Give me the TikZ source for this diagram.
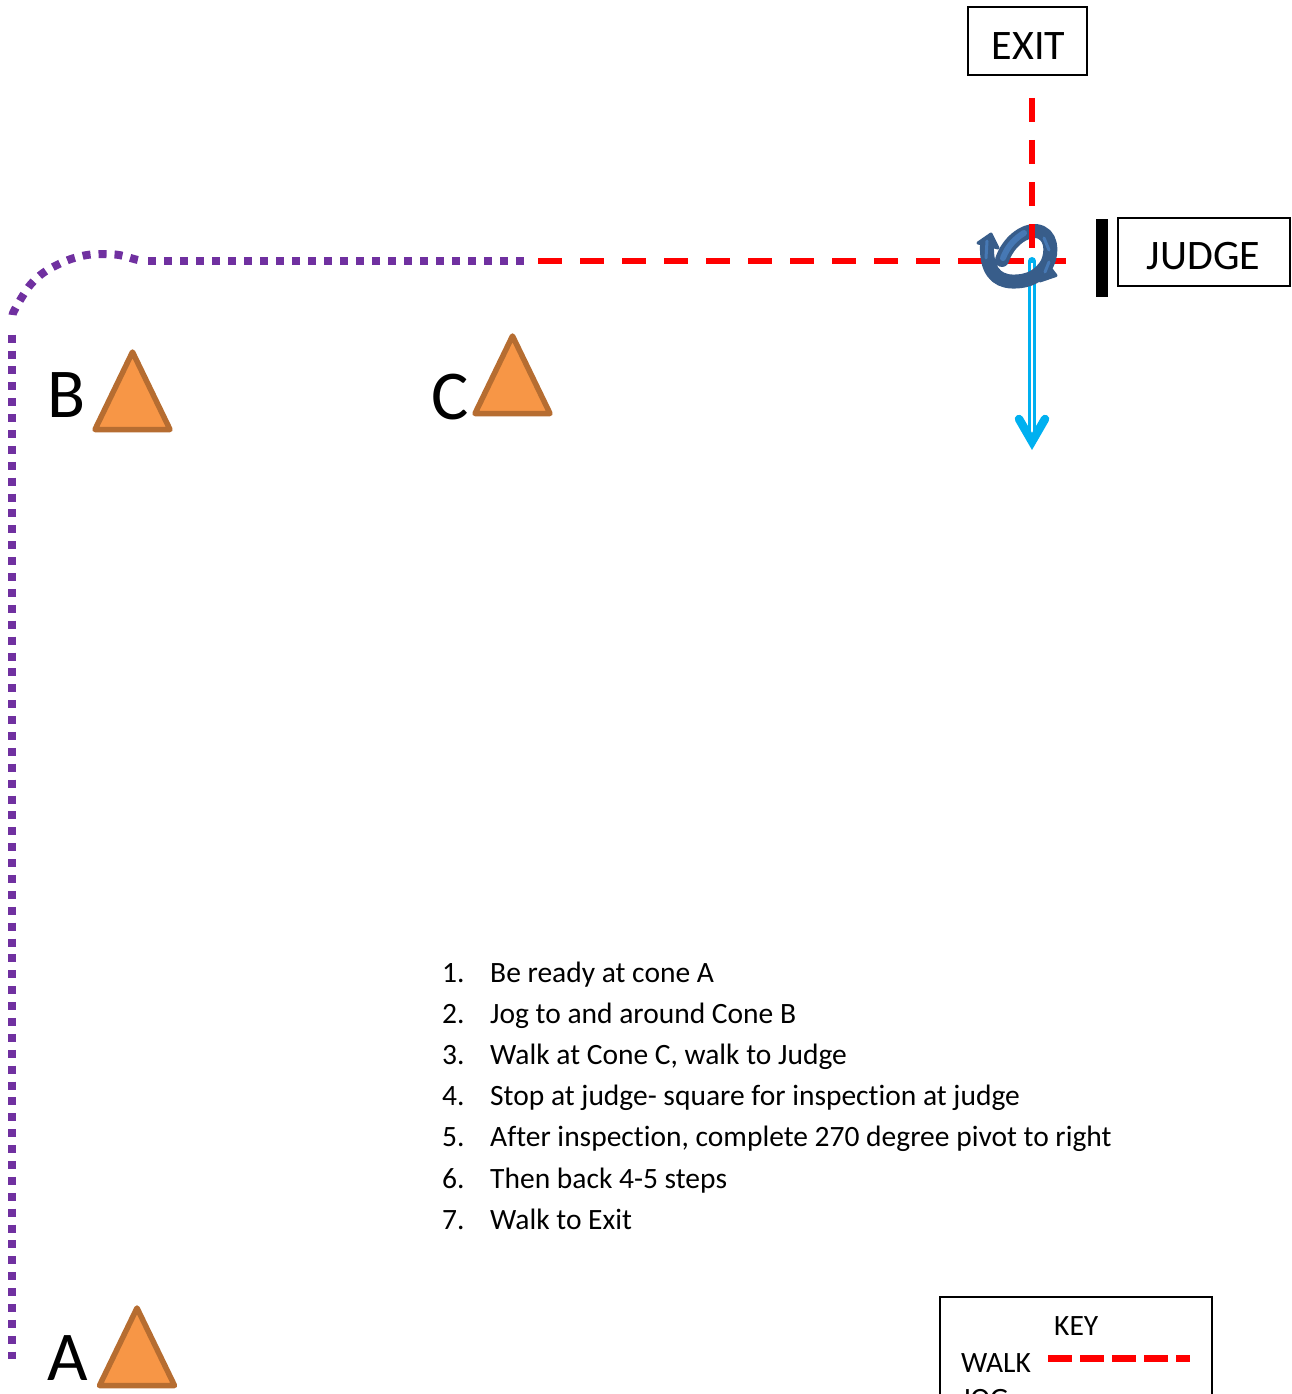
\documentclass[tikz,border=0pt]{standalone}
\usepackage{fontspec}
\setmainfont[Ligatures=CommonOff]{Carlito}
\definecolor{walkred}{RGB}{255,0,0}
\definecolor{jogpurple}{RGB}{112,48,160}
\definecolor{backblue}{RGB}{0,176,240}
\definecolor{conefill}{RGB}{247,150,70}
\definecolor{coneline}{RGB}{182,109,49}
\definecolor{pivotdark}{RGB}{56,93,138}
\definecolor{pivotlight}{RGB}{70,120,180}
\tikzset{
 labelbox/.style={draw=black,line width=1.5pt,fill=white,inner sep=0pt,align=center},
 walkline/.style={draw=walkred,line width=6pt,dash pattern=on 24pt off 18pt},
 jogline/.style={draw=jogpurple,line width=8pt,dash pattern=on 8pt off 8pt},
 conelabel/.style={font=\fontsize{70}{70}\selectfont,inner sep=0pt,anchor=center},
 conetri/.style={draw=coneline,fill=conefill,line width=5.5pt,line join=round},
 listnum/.style={font=\fontsize{29.5}{29.5}\selectfont,inner sep=0pt,anchor=base west},
 boxtext/.style={font=\fontsize{42}{42}\selectfont,inner sep=0pt,anchor=center},
}
\begin{document}
\begin{tikzpicture}[x=1pt,y=-1pt]
\useasboundingbox (0,0) rectangle (1291,1394);
\clip (0,0) rectangle (1291,1394);
% boxes
\node[labelbox,minimum width=119pt,minimum height=68pt] (exit) at (1027.5,41) {};
\node[boxtext] (exittext) at (1028.5,46) {EXIT};
\node[labelbox,minimum width=172pt,minimum height=68pt] (judge) at (1204,252) {};
\node[boxtext] (judgetext) at (1203.5,256) {JUDGE};
\fill[black] (1096,219) rectangle (1108,297);
% coordinates
\coordinate (w1) at (538,260.5);
\coordinate (w2) at (1066,260.5);
\coordinate (e1) at (1032,98);
\coordinate (e2) at (1032,248);
\coordinate (j1) at (526,260.5);
\coordinate (j2) at (148,260.5);
\coordinate (j3) at (12,1358.7);
\coordinate (j4) at (12,334.7);
\coordinate (b1) at (1032,261);
\coordinate (b2) at (1032,441.5);
% walk
\draw[walkline] (w1) -- (w2);
\draw[walkline] (e1) -- (e2);
% jog
\draw[jogline,dash pattern=on 8pt off 7.89pt] (j4) -- (j3);
\draw[jogline] plot[smooth,tension=0.6] coordinates {(12.6,315) (14,311) (22,297) (31,284) (43,273) (57,265) (71,259) (87,255) (103,254) (119,255) (134,259) (138,260)};
\draw[jogline] (j2) -- (j1);
% back
\draw[backblue,line width=8pt,line cap=round] (b1) -- (1032,436);
\draw[white,line width=2.6pt] (1032,263) -- (1032,433);
\draw[backblue,line width=8.5pt,line cap=round,line join=miter] (1019,419) -- (b2) -- (1045,419);
% pivot
\draw[pivotdark,line width=14pt,line cap=round,line join=round] (1002,260) .. controls (1008,242) and (1024,230) .. (1036,231) .. controls (1052,233) and (1053,252) .. (1047,264) .. controls (1040,275) and (1030,282) .. (1012,281.5) .. controls (996,281) and (986,270) .. (987,245);
\fill[pivotdark,draw=pivotdark,line width=3pt,line join=round] (978,243) -- (991,234) -- (998,248) -- cycle;
\fill[pivotdark,draw=pivotdark,line width=3pt,line join=round] (1056,275.5) -- (1040,281) -- (1048,265) -- cycle;
\draw[pivotlight,line width=3pt,line cap=round] (987,241) -- (986,258);
\draw[pivotlight,line width=3pt,line cap=round] (1044,238) -- (1049,250);
\draw[pivotlight,line width=3pt,line cap=round] (1049,262) -- (1045,272);
\draw[pivotlight,line width=6pt,line cap=round] (1003,258) .. controls (1008,245) and (1016,238) .. (1024,233);
\draw[walkline,dash pattern=] (1032,224) -- (e2);
% cones
\draw[conetri] (132.5,352) -- (170,429.5) -- (95,429.5) -- cycle;
\draw[conetri] (512.5,336) -- (550,413.5) -- (475,413.5) -- cycle;
\draw[conetri] (137,1308) -- (174.5,1385.5) -- (99.5,1385.5) -- cycle;
\node[conelabel] (lb) at (67,395) {B};
\node[conelabel] (lc) at (450,397) {C};
\node[conelabel] (la) at (68,1358) {A};
% list
\node[listnum] (n1) at (442,982.5) {1.}; \node[listnum] (t1) at (490,982.5) {Be ready at cone A};
\node[listnum] (n2) at (442,1023.5) {2.}; \node[listnum] (t2) at (490,1023.5) {Jog to and around Cone B};
\node[listnum] (n3) at (442,1064.5) {3.}; \node[listnum] (t3) at (490,1064.5) {Walk at Cone C, walk to Judge};
\node[listnum] (n4) at (442,1105.5) {4.}; \node[listnum] (t4) at (490,1105.5) {Stop at judge- square for inspection at judge};
\node[listnum] (n5) at (442,1146.5) {5.}; \node[listnum] (t5) at (490,1146.5) {After inspection, complete 270 degree pivot to right};
\node[listnum] (n6) at (442,1188.5) {6.}; \node[listnum] (t6) at (490,1188.5) {Then back 4-5 steps};
\node[listnum] (n7) at (442,1229.5) {7.}; \node[listnum] (t7) at (490,1229.5) {Walk to Exit};
% key
\draw[black,line width=1.5pt] (940,1420) -- (940,1297) -- (1212,1297) -- (1212,1420);
\node[listnum] (key) at (1054,1335.5) {KEY};
\node[listnum] (kw) at (961,1372) {WALK};
\node[listnum] (kj) at (961,1408) {JOG};
\coordinate (k1) at (1048,1358);
\coordinate (k2) at (1190,1358);
\draw[walkred,line width=7pt,dash pattern=on 24pt off 8pt] (k1) -- (k2);
\end{tikzpicture}
\end{document}
